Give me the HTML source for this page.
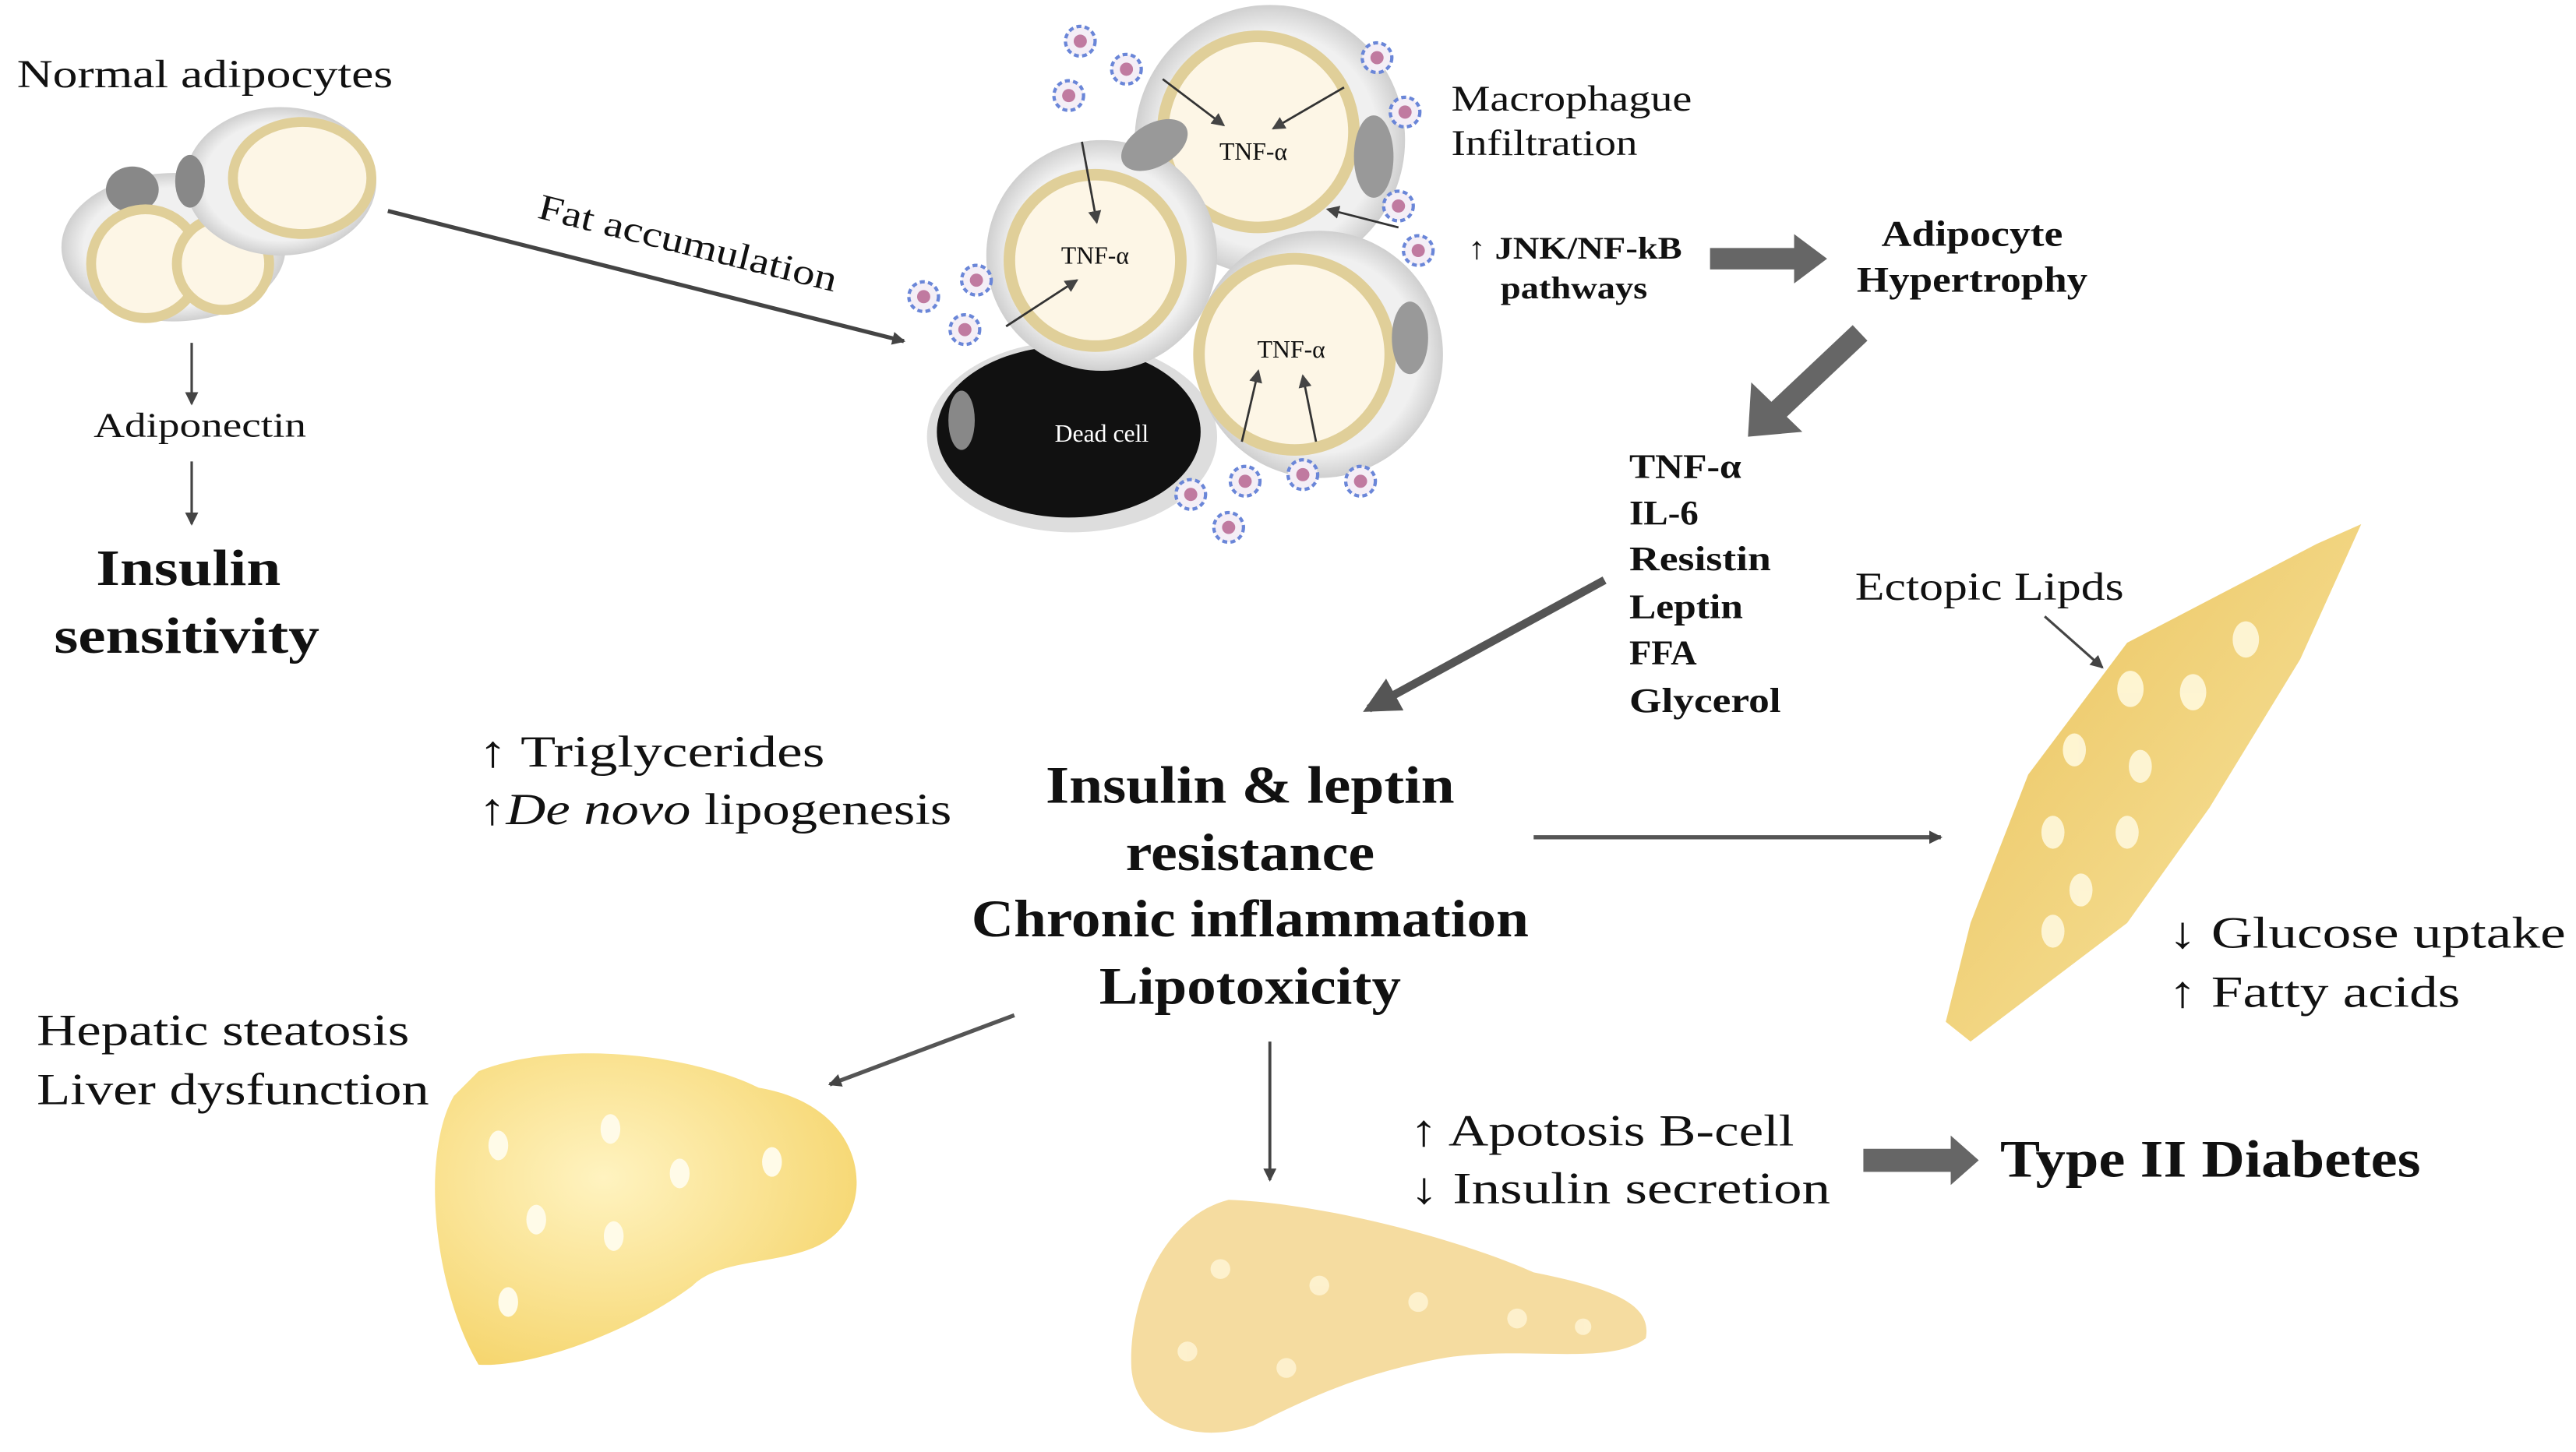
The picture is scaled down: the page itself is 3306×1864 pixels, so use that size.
<!DOCTYPE html>
<html><head><meta charset="utf-8"><style>
html,body{margin:0;padding:0;background:#fff;}
svg{display:block}
text{font-family:"Liberation Serif",serif;fill:#111}
.b{font-weight:bold}
</style></head><body>
<svg width="3306" height="1864" viewBox="0 0 1562 881" xmlns="http://www.w3.org/2000/svg">
<defs>
<marker id="a" markerWidth="8" markerHeight="8" refX="7" refY="4" orient="auto" markerUnits="userSpaceOnUse"><path d="M0,0 L8,4 L0,8 z" fill="#444"/></marker>
<marker id="a2" markerWidth="22" markerHeight="22" refX="18" refY="11" orient="auto" markerUnits="userSpaceOnUse"><path d="M0,0 L22,11 L0,22 z" fill="#555"/></marker>
<radialGradient id="cell" cx="50%" cy="50%" r="50%"><stop offset="0.8" stop-color="#f0f0f0"/><stop offset="1" stop-color="#cfcfcf"/></radialGradient>
<radialGradient id="yel" cx="40%" cy="40%" r="70%"><stop offset="0" stop-color="#fff3c0"/><stop offset="1" stop-color="#f5d46a"/></radialGradient>
<linearGradient id="mus" x1="0" y1="0" x2="1" y2="1"><stop offset="0" stop-color="#e9c15a"/><stop offset="0.6" stop-color="#f3d887"/><stop offset="1" stop-color="#fbf0d0"/></linearGradient>
<g id="mac"><circle r="9" fill="#f4eef6" stroke="#6a86d8" stroke-width="2" stroke-dasharray="3 2"/><circle r="4" fill="#c07aa0"/></g>
</defs>

<!-- Normal adipocytes -->
<text x="10" y="53" font-size="24" textLength="228" lengthAdjust="spacingAndGlyphs">Normal adipocytes</text>
<ellipse cx="105" cy="150" rx="68" ry="45" fill="url(#cell)"/>
<ellipse cx="80" cy="115" rx="16" ry="14" fill="#888"/>
<circle cx="88" cy="160" r="33" fill="#fdf6e6" stroke="#e0cf99" stroke-width="6"/>
<circle cx="135" cy="160" r="28" fill="#fdf6e6" stroke="#e0cf99" stroke-width="6"/>
<ellipse cx="170" cy="110" rx="58" ry="45" fill="url(#cell)"/>
<ellipse cx="115" cy="110" rx="9" ry="16" fill="#888"/>
<ellipse cx="183" cy="108" rx="42" ry="34" fill="#fdf6e6" stroke="#e0cf99" stroke-width="6"/>
<line x1="116" y1="208" x2="116" y2="245" stroke="#444" stroke-width="1.5" marker-end="url(#a)"/>
<text x="121" y="265" font-size="21" text-anchor="middle" textLength="129" lengthAdjust="spacingAndGlyphs">Adiponectin</text>
<line x1="116" y1="280" x2="116" y2="318" stroke="#444" stroke-width="1.5" marker-end="url(#a)"/>
<text x="114" y="355" font-size="31" class="b" text-anchor="middle" textLength="112" lengthAdjust="spacingAndGlyphs">Insulin</text>
<text x="113" y="396" font-size="31" class="b" text-anchor="middle" textLength="161" lengthAdjust="spacingAndGlyphs">sensitivity</text>

<!-- fat accumulation -->
<line x1="235" y1="128" x2="548" y2="207" stroke="#444" stroke-width="2.5" marker-end="url(#a)"/>
<text x="325" y="132" font-size="22" transform="rotate(14 325 132)" textLength="186" lengthAdjust="spacingAndGlyphs">Fat accumulation</text>

<!-- Cluster -->
<ellipse cx="650" cy="265" rx="88" ry="58" fill="#ddd"/>
<ellipse cx="648" cy="262" rx="80" ry="52" fill="#111"/>
<ellipse cx="583" cy="255" rx="8" ry="18" fill="#888"/>
<text x="668" y="268" font-size="15" style="fill:#fff" text-anchor="middle">Dead cell</text>
<circle cx="770" cy="85" r="82" fill="url(#cell)"/>
<circle cx="763" cy="80" r="58" fill="#fdf6e6" stroke="#e0cf99" stroke-width="7"/>
<ellipse cx="833" cy="95" rx="12" ry="25" fill="#999"/>
<text x="760" y="97" font-size="15" text-anchor="middle">TNF-α</text>
<circle cx="800" cy="215" r="75" fill="url(#cell)"/>
<circle cx="785" cy="215" r="58" fill="#fdf6e6" stroke="#e0cf99" stroke-width="7"/>
<ellipse cx="855" cy="205" rx="11" ry="22" fill="#999"/>
<text x="783" y="217" font-size="15" text-anchor="middle">TNF-α</text>
<circle cx="668" cy="155" r="70" fill="url(#cell)"/>
<circle cx="664" cy="158" r="52" fill="#fdf6e6" stroke="#e0cf99" stroke-width="7"/>
<ellipse cx="700" cy="88" rx="22" ry="13" fill="#999" transform="rotate(-30 700 88)"/>
<text x="664" y="160" font-size="15" text-anchor="middle">TNF-α</text>
<g stroke="#333" stroke-width="1.3" marker-end="url(#a)">
<line x1="705" y1="48" x2="742" y2="76"/><line x1="815" y1="53" x2="772" y2="78"/>
<line x1="656" y1="86" x2="665" y2="135"/><line x1="610" y1="198" x2="653" y2="170"/>
<line x1="848" y1="138" x2="805" y2="127"/>
<line x1="753" y1="268" x2="763" y2="225"/><line x1="798" y1="268" x2="790" y2="228"/>
</g>
<use href="#mac" x="655" y="25"/><use href="#mac" x="683" y="42"/><use href="#mac" x="648" y="58"/>
<use href="#mac" x="835" y="35"/><use href="#mac" x="852" y="68"/><use href="#mac" x="848" y="125"/><use href="#mac" x="860" y="152"/>
<use href="#mac" x="560" y="180"/><use href="#mac" x="592" y="170"/><use href="#mac" x="585" y="200"/>
<use href="#mac" x="755" y="292"/><use href="#mac" x="790" y="288"/><use href="#mac" x="825" y="292"/><use href="#mac" x="745" y="320"/><use href="#mac" x="722" y="300"/>

<text x="880" y="67" font-size="22" textLength="146" lengthAdjust="spacingAndGlyphs">Macrophague</text>
<text x="880" y="94" font-size="22" textLength="113" lengthAdjust="spacingAndGlyphs">Infiltration</text>
<text x="890" y="157" font-size="19" class="b" textLength="130" lengthAdjust="spacingAndGlyphs">↑ JNK/NF-kB</text>
<text x="910" y="181" font-size="19" class="b" textLength="89" lengthAdjust="spacingAndGlyphs">pathways</text>
<line x1="1037" y1="157" x2="1092" y2="157" stroke="#666" stroke-width="13"/>
<path d="M1088,142 L1108,157 L1088,172 z" fill="#666"/>
<text x="1196" y="149" font-size="22" class="b" text-anchor="middle" textLength="110" lengthAdjust="spacingAndGlyphs">Adipocyte</text>
<text x="1196" y="177" font-size="22" class="b" text-anchor="middle" textLength="140" lengthAdjust="spacingAndGlyphs">Hypertrophy</text>
<line x1="1128" y1="202" x2="1075" y2="252" stroke="#666" stroke-width="13"/>
<path d="M1060,265 L1062,232 L1093,262 z" fill="#666"/>
<g font-size="21">
<text x="988" y="290" class="b" textLength="68" lengthAdjust="spacingAndGlyphs">TNF-α</text>
<text x="988" y="318" class="b" textLength="42" lengthAdjust="spacingAndGlyphs">IL-6</text>
<text x="988" y="346" class="b" textLength="86" lengthAdjust="spacingAndGlyphs">Resistin</text>
<text x="988" y="375" class="b" textLength="69" lengthAdjust="spacingAndGlyphs">Leptin</text>
<text x="988" y="403" class="b" textLength="41" lengthAdjust="spacingAndGlyphs">FFA</text>
<text x="988" y="432" class="b" textLength="92" lengthAdjust="spacingAndGlyphs">Glycerol</text>
</g>
<line x1="973" y1="352" x2="830" y2="430" stroke="#555" stroke-width="5" marker-end="url(#a2)"/>

<!-- center -->
<text x="290" y="465" font-size="27" textLength="210" lengthAdjust="spacingAndGlyphs">↑ Triglycerides</text>
<text x="290" y="500" font-size="27" textLength="287" lengthAdjust="spacingAndGlyphs">↑<tspan font-style="italic">De novo</tspan> lipogenesis</text>
<g font-size="32" text-anchor="middle">
<text x="758" y="487" class="b" textLength="248" lengthAdjust="spacingAndGlyphs">Insulin &amp; leptin</text>
<text x="758" y="528" class="b" textLength="151" lengthAdjust="spacingAndGlyphs">resistance</text>
<text x="758" y="568" class="b" textLength="338" lengthAdjust="spacingAndGlyphs">Chronic inflammation</text>
<text x="758" y="609" class="b" textLength="183" lengthAdjust="spacingAndGlyphs">Lipotoxicity</text>
</g>
<line x1="930" y1="508" x2="1177" y2="508" stroke="#555" stroke-width="2.5" marker-end="url(#a)"/>

<!-- muscle -->
<path d="M1405,330 L1432,318 L1395,400 L1340,490 L1290,560 L1195,632 L1180,620 L1195,560 L1230,470 L1290,390 z" fill="url(#mus)"/>
<g fill="#fff8dc" opacity="0.9">
<ellipse cx="1362" cy="388" rx="8" ry="11"/><ellipse cx="1330" cy="420" rx="8" ry="11"/><ellipse cx="1292" cy="418" rx="8" ry="11"/>
<ellipse cx="1258" cy="455" rx="7" ry="10"/><ellipse cx="1298" cy="465" rx="7" ry="10"/><ellipse cx="1290" cy="505" rx="7" ry="10"/>
<ellipse cx="1245" cy="505" rx="7" ry="10"/><ellipse cx="1262" cy="540" rx="7" ry="10"/><ellipse cx="1245" cy="565" rx="7" ry="10"/></g>
<text x="1125" y="364" font-size="24" textLength="163" lengthAdjust="spacingAndGlyphs">Ectopic Lipds</text>
<line x1="1240" y1="374" x2="1275" y2="405" stroke="#444" stroke-width="1.5" marker-end="url(#a)"/>
<text x="1315" y="575" font-size="27" textLength="241" lengthAdjust="spacingAndGlyphs">↓ Glucose uptake</text>
<text x="1315" y="611" font-size="27" textLength="177" lengthAdjust="spacingAndGlyphs">↑ Fatty acids</text>

<!-- liver -->
<text x="22" y="634" font-size="27" textLength="226" lengthAdjust="spacingAndGlyphs">Hepatic steatosis</text>
<text x="22" y="670" font-size="27" textLength="238" lengthAdjust="spacingAndGlyphs">Liver dysfunction</text>
<line x1="615" y1="616" x2="503" y2="658" stroke="#555" stroke-width="2.5" marker-end="url(#a)"/>
<path d="M290,650 C340,630 420,640 460,660 C520,670 530,720 510,745 C490,770 440,760 420,780 C380,810 320,830 290,828 C262,780 255,700 275,665 z" fill="url(#yel)"/>
<g fill="#fffbe8"><ellipse cx="302" cy="695" rx="6" ry="9"/><ellipse cx="370" cy="685" rx="6" ry="9"/><ellipse cx="412" cy="712" rx="6" ry="9"/><ellipse cx="468" cy="705" rx="6" ry="9"/><ellipse cx="325" cy="740" rx="6" ry="9"/><ellipse cx="372" cy="750" rx="6" ry="9"/><ellipse cx="308" cy="790" rx="6" ry="9"/></g>

<!-- pancreas -->
<line x1="770" y1="632" x2="770" y2="716" stroke="#444" stroke-width="1.8" marker-end="url(#a)"/>
<path d="M745,728 C800,730 880,750 930,772 C980,782 1002,792 998,812 C975,830 920,815 870,825 C820,835 790,850 760,865 C720,878 688,860 686,830 C684,790 705,738 745,728 z" fill="#f5dca0"/>
<g fill="#fff6d8" opacity="0.8"><circle cx="740" cy="770" r="6"/><circle cx="800" cy="780" r="6"/><circle cx="860" cy="790" r="6"/><circle cx="920" cy="800" r="6"/><circle cx="720" cy="820" r="6"/><circle cx="780" cy="830" r="6"/><circle cx="960" cy="805" r="5"/></g>
<text x="855" y="695" font-size="27" textLength="233" lengthAdjust="spacingAndGlyphs">↑ Apotosis B-cell</text>
<text x="855" y="730" font-size="27" textLength="255" lengthAdjust="spacingAndGlyphs">↓ Insulin secretion</text>
<line x1="1130" y1="704" x2="1185" y2="704" stroke="#666" stroke-width="14"/>
<path d="M1183,689 L1200,704 L1183,719 z" fill="#666"/>
<text x="1213" y="714" font-size="32" class="b" textLength="255" lengthAdjust="spacingAndGlyphs">Type II Diabetes</text>
</svg>
</body></html>
